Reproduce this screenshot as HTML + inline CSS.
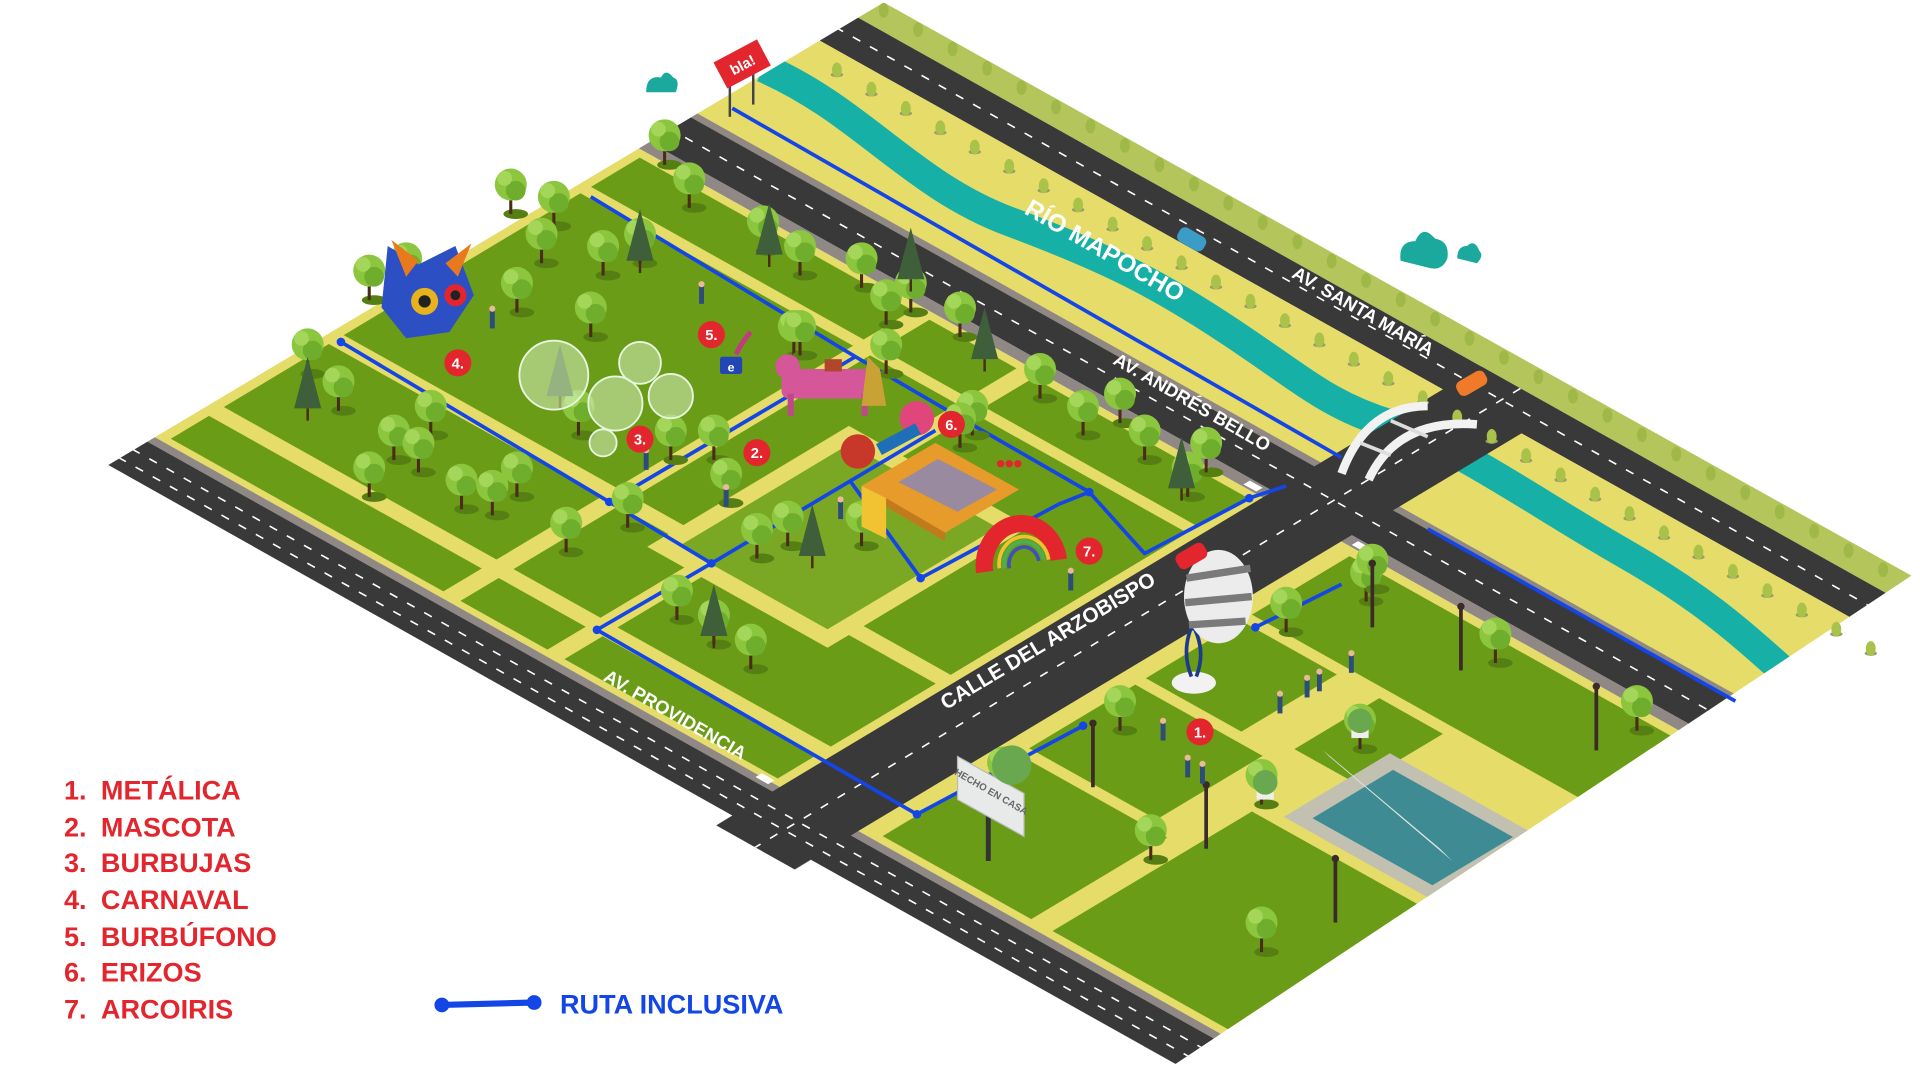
<!DOCTYPE html>
<html><head><meta charset="utf-8">
<style>
html,body{margin:0;padding:0;background:#fff;width:1920px;height:1080px;overflow:hidden}
svg{display:block;position:absolute;left:0;top:0}
text{font-family:"Liberation Sans",sans-serif;font-weight:bold}
</style></head>
<body>
<svg id="s" width="1920" height="1080" viewBox="0 0 1560 878" preserveAspectRatio="none">
<defs>
<clipPath id="cp"><polygon points="88,378 718,2 1553,468 955,865 659,699 646,707 582,671 595,663"/></clipPath>
</defs>
<g id="map" clip-path="url(#cp)"></g>
<g id="obj"></g>
<g id="lbl">
<text x="897" y="205" font-size="20" fill="#fff" text-anchor="middle" dominant-baseline="middle" transform="rotate(30 897 205)">RÍO MAPOCHO</text>
<text x="1107" y="254" font-size="15" fill="#fff" text-anchor="middle" dominant-baseline="middle" transform="rotate(30 1107 254)">AV. SANTA MARÍA</text>
<text x="968" y="328" font-size="15" fill="#fff" text-anchor="middle" dominant-baseline="middle" transform="rotate(30 968 328)">AV. ANDRÉS BELLO</text>
<text x="548" y="582" font-size="15" fill="#fff" text-anchor="middle" dominant-baseline="middle" transform="rotate(30 548 582)">AV. PROVIDENCIA</text>
<text x="852" y="522" font-size="17" fill="#fff" text-anchor="middle" dominant-baseline="middle" transform="rotate(-31 852 522)">CALLE DEL ARZOBISPO</text>
</g>
<g id="legend" fill="#e3262e" font-size="22">
<text x="52" y="650">1.</text><text x="82" y="650">METÁLICA</text>
<text x="52" y="680">2.</text><text x="82" y="680">MASCOTA</text>
<text x="52" y="709">3.</text><text x="82" y="709">BURBUJAS</text>
<text x="52" y="739">4.</text><text x="82" y="739">CARNAVAL</text>
<text x="52" y="769">5.</text><text x="82" y="769">BURBÚFONO</text>
<text x="52" y="798">6.</text><text x="82" y="798">ERIZOS</text>
<text x="52" y="828">7.</text><text x="82" y="828">ARCOIRIS</text>
<line x1="359" y1="817" x2="434" y2="815" stroke="#1446e6" stroke-width="5"/>
<circle cx="359" cy="817" r="6" fill="#1446e6"/><circle cx="434" cy="815" r="6" fill="#1446e6"/>
<text x="455" y="824" fill="#1446e6" font-size="22">RUTA INCLUSIVA</text>
</g>
<g id="marks"></g>
</svg>
<script>
function P(a,b){var x=(b-a)/1.16;return [x,a+0.56*x];}
function pts(arr){return arr.map(function(p){return p[0].toFixed(1)+','+p[1].toFixed(1)}).join(' ');}
function quad(a1,a2,b1,b2,c){return '<polygon points="'+pts([P(a1,b1),P(a1,b2),P(a2,b2),P(a2,b1)])+'" fill="'+c+'"/>';}
function lineA(a,b1,b2,st){var p=P(a,b1),q=P(a,b2);return '<line x1="'+p[0]+'" y1="'+p[1]+'" x2="'+q[0]+'" y2="'+q[1]+'" '+st+'/>';}
function lineB(b,a1,a2,st){var p=P(a1,b),q=P(a2,b);return '<line x1="'+p[0]+'" y1="'+p[1]+'" x2="'+q[0]+'" y2="'+q[1]+'" '+st+'/>';}
var Y='#e6dc6a',G='#6a9c17',R='#3a3939',GR='#8f8884',W='#16b0a6';
var m='';
m+=quad(-420,-376,300,1800,'#b4c55c');
m+=quad(-376,-340,300,1800,R);
m+=quad(-340,-219,300,1800,Y);
m+='<path d="M620,55 C700,90 740,150 820,180 S940,230 1000,270 S1080,330 1130,345 S1250,410 1320,450 S1420,520 1460,555" stroke="'+W+'" stroke-width="24" fill="none"/>';
m+=quad(-225,-219,300,1800,GR);
m+=quad(-219,-180,300,1800,R);
m+=quad(-180,-170,300,1800,GR);
m+=quad(-170,285,300,1800,Y);
m+=quad(285,292,300,1800,GR);
m+=quad(292,330,300,1800,R);
m+=quad(330,360,300,1800,GR);
m+=quad(-376,360,1020,1094,R);
var ds='stroke="#fff" stroke-width="1.3" stroke-dasharray="7 9"';
m+=lineA(-358,300,1800,ds);m+=lineA(-200,300,1800,ds);m+=lineA(305,300,1800,ds);m+=lineA(318,300,1800,ds);
m+=lineB(1057,-376,360,ds);
var ai=[[-163,-117],[-107,116],[130,229],[243,279]];
var bi=[[440,697],[713,795],[811,1012]];
ai.forEach(function(a){bi.forEach(function(b){m+=quad(a[0],a[1],b[0],b[1],G);});});
m+=quad(-40,150,760,930,Y);
m+=quad(-25,135,775,915,'#7aa824');
m+=quad(-162,-70,1110,1500,G);
m+=quad(-60,30,1110,1200,G);
m+=quad(40,140,1110,1230,G);
m+=quad(150,278,1110,1250,G);
m+=quad(-60,20,1240,1300,G);
m+=quad(90,278,1270,1500,G);
m+=quad(-20,80,1290,1430,'#c2c0b0');
m+=quad(-8,68,1305,1418,'#3e8b93');
m+='<polygon points="1075,610 1170,690 1180,700 1080,615" fill="#dfe5e2"/>';
m+=quad(-178,-172,1000,1012,'#fff');m+=quad(-178,-172,1102,1114,'#fff');
m+=quad(282,288,1000,1012,'#fff');m+=quad(333,339,1100,1112,'#fff');
document.getElementById('map').innerHTML=m;

var o='';
var bs='stroke="#1446e6" stroke-width="3" fill="none" stroke-linejoin="round"';
o+='<polyline points="595,88 1090,372" '+bs+'/>';
o+='<polyline points="1160,430 1410,570" '+bs+'/>';
o+='<polyline points="277,278 495,408 548,440 578,458" '+bs+'/>';
o+='<polyline points="480,160 695,290 760,328 885,400 930,450 1015,405 1045,395" '+bs+'/>';
o+='<polyline points="695,290 495,408" '+bs+'/>';
o+='<polyline points="578,458 485,512 745,662 880,590" '+bs+'/>';
o+='<polyline points="578,458 760,350" '+bs+'/>';
o+='<polyline points="690,390 748,470 860,410 885,400" '+bs+'/>';
o+='<polyline points="1020,510 1090,475" '+bs+'/>';
[[277,278],[495,408],[578,458],[485,512],[745,662],[885,400],[748,470],[1015,405],[880,590],[1020,510]].forEach(function(p){o+='<circle cx="'+p[0]+'" cy="'+p[1]+'" r="3.5" fill="#1446e6"/>';});
for(var x=680;x<1530;x+=28){var y=-330+0.56*x+6;o+='<ellipse cx="'+x+'" cy="'+(y+4)+'" rx="5" ry="2" fill="#9a9a70"/><ellipse cx="'+x+'" cy="'+y+'" rx="4" ry="6" fill="#a9c24a"/>';
 var y2=-392+0.56*x; o+='<ellipse cx="'+(x+10)+'" cy="'+(y2+4)+'" rx="4" ry="6" fill="#9fb848"/>';}
var T=[[300,220],[330,210],[250,280],[275,310],[320,350],[350,330],[415,150],[450,160],[440,190],[490,200],[520,190],[540,110],[560,145],[650,200],[700,210],[720,240],[740,230],[645,265],[720,280],[780,250],[845,300],[880,330],[910,320],[965,380],[980,360],[375,390],[400,395],[420,380],[460,425],[510,405],[545,350],[580,350],[590,385],[615,430],[640,420],[550,480],[580,500],[610,520],[910,570],[1045,490],[1110,465],[1215,515],[1330,570],[935,675],[1025,750],[815,620],[1025,630],[1105,585],[470,330],[650,265],[790,330],[700,420],[780,340],[1115,455],[300,380],[340,360],[420,230],[480,250],[620,180],[930,350]];
T.forEach(function(t){var x=t[0],y=t[1];o+='<ellipse cx="'+(x+4)+'" cy="'+(y+24)+'" rx="10" ry="4" fill="#557f12"/><line x1="'+x+'" y1="'+y+'" x2="'+x+'" y2="'+(y+24)+'" stroke="#4a2c1a" stroke-width="2.5"/><circle cx="'+x+'" cy="'+y+'" r="13" fill="#8cc63f"/><circle cx="'+(x+4)+'" cy="'+(y+5)+'" r="8" fill="#6fae2c"/><circle cx="'+(x-5)+'" cy="'+(y-5)+'" r="6" fill="#a4d65a"/>';});
var C=[[455,310],[625,195],[800,280],[660,440],[580,505],[960,385],[250,320],[740,215],[520,200]];
C.forEach(function(t){var x=t[0],y=t[1];o+='<polygon points="'+x+','+(y-30)+' '+(x-11)+','+(y+12)+' '+(x+11)+','+(y+12)+'" fill="#3f5f3a"/><line x1="'+x+'" y1="'+(y+12)+'" x2="'+x+'" y2="'+(y+22)+'" stroke="#4a2c1a" stroke-width="2"/>';});
[[450,305,28],[520,295,17],[500,328,22],[545,322,18],[490,360,11]].forEach(function(b){o+='<circle cx="'+b[0]+'" cy="'+b[1]+'" r="'+b[2]+'" fill="#cfe9b0" fill-opacity="0.6" stroke="#e8f6e0" stroke-width="1.5"/>';});
o+='<line x1="593" y1="70" x2="593" y2="95" stroke="#444" stroke-width="2"/><line x1="612" y1="60" x2="612" y2="85" stroke="#444" stroke-width="2"/>';
o+='<g transform="translate(603,52) rotate(-28)"><rect x="-20" y="-12" width="40" height="24" fill="#e3262e"/><text x="0" y="5" font-size="12" fill="#fff" text-anchor="middle">bla!</text></g>';
o+='<path d="M525,75 q0,-14 12,-12 q4,-8 10,0 q6,2 2,12 z" fill="#1aa99c"/>';
o+='<path d="M1138,212 q-2,-16 12,-16 q6,-14 16,-2 q12,2 10,16 q-4,10 -14,8 z" fill="#1aa99c"/>';
o+='<path d="M1184,210 q0,-10 8,-10 q6,-6 10,4 q4,4 -2,10 z" fill="#1aa99c"/>';
o+='<polygon points="315,200 340,215 370,200 385,240 365,270 330,275 310,250" fill="#2d4fc4"/><circle cx="345" cy="245" r="11" fill="#e8b21d"/><circle cx="370" cy="240" r="9" fill="#e3262e"/><circle cx="345" cy="245" r="5" fill="#222"/><circle cx="370" cy="240" r="4" fill="#222"/><polygon points="318,195 330,225 340,212" fill="#e87a1d"/><polygon points="383,198 372,225 362,214" fill="#e87a1d"/>';
o+='<rect x="635" y="300" width="80" height="24" rx="6" fill="#d6569a"/><circle cx="640" cy="298" r="10" fill="#d6569a"/><rect x="640" y="320" width="5" height="18" fill="#c04888"/><rect x="700" y="320" width="5" height="18" fill="#c04888"/><polygon points="705,290 715,300 720,330 700,330" fill="#c9a236"/><rect x="670" y="292" width="14" height="10" fill="#b0462c"/>';
o+='<rect x="585" y="290" width="18" height="14" rx="2" fill="#2247b5"/><text x="594" y="302" font-size="10" fill="#fff" text-anchor="middle">e</text><path d="M598,288 q6,-12 12,-18" stroke="#c43a80" stroke-width="4" fill="none"/>';
o+='<circle cx="745" cy="340" r="14" fill="#e0457b"/><circle cx="697" cy="367" r="14" fill="#c8382a"/>';
o+='<polygon points="700,395 760,360 828,398 768,433" fill="#e79b2b"/><polygon points="730,392 762,373 810,398 778,416" fill="#9a8a9f"/><polygon points="700,395 720,405 720,438 700,428" fill="#f1c232"/><polygon points="720,405 768,433 768,440 720,412" fill="#c27b1c"/><rect x="712" y="352" width="36" height="10" fill="#1f6fb8" transform="rotate(-28 730 357)"/>';
o+='<circle cx="813" cy="377" r="3" fill="#e3262e"/><circle cx="820" cy="377" r="3" fill="#e3262e"/><circle cx="827" cy="377" r="3" fill="#e3262e"/>';
o+='<path d="M800,465 A30,34 0 0 1 860,455" stroke="#e3262e" stroke-width="14" fill="none"/><path d="M812,462 A20,22 0 0 1 852,455" stroke="#f2c12e" stroke-width="3" fill="none"/><path d="M816,462 A16,18 0 0 1 848,455" stroke="#4caf50" stroke-width="3" fill="none"/><path d="M820,462 A12,14 0 0 1 844,456" stroke="#3f51b5" stroke-width="3" fill="none"/>';
o+='<path d="M1090,385 Q1110,330 1160,330" stroke="#f2f2f2" stroke-width="7" fill="none"/><path d="M1112,390 Q1135,340 1200,345" stroke="#f2f2f2" stroke-width="7" fill="none"/><line x1="1105" y1="360" x2="1130" y2="370" stroke="#ddd" stroke-width="3"/><line x1="1130" y1="342" x2="1160" y2="355" stroke="#ddd" stroke-width="3"/>';
o+='<ellipse cx="970" cy="555" rx="18" ry="9" fill="#f2f2f2"/><path d="M968,550 q-8,-20 0,-40 M972,550 q8,-20 -2,-40" stroke="#1e3a8a" stroke-width="3" fill="none"/>';
o+='<ellipse cx="990" cy="485" rx="28" ry="38" fill="#ececec"/><path d="M964,470 L1016,462 M963,490 L1017,485 M966,508 L1012,505" stroke="#7a7a7a" stroke-width="6"/>';
o+='<rect x="955" y="445" width="26" height="14" rx="5" fill="#e3262e" transform="rotate(-30 968 452)"/>';
o+='<rect x="956" y="188" width="24" height="13" rx="5" fill="#3a9cc7" transform="rotate(30 968 195)"/>';
o+='<rect x="1183" y="305" width="26" height="13" rx="5" fill="#ef7b2a" transform="rotate(-30 1196 312)"/>';
o+='<line x1="803" y1="660" x2="803" y2="700" stroke="#333" stroke-width="4"/><polygon points="778,615 832,645 832,680 778,650" fill="#e8eaea" stroke="#bbb"/><text x="804" y="646" font-size="8" fill="#666" text-anchor="middle" transform="rotate(30 804 646)">HECHO EN CASA</text>';
o+='<circle cx="822" cy="622" r="16" fill="#6aa84f"/>';
[[888,640],[980,690],[1085,750],[1115,510],[1187,545],[1297,610]].forEach(function(l){o+='<line x1="'+l[0]+'" y1="'+l[1]+'" x2="'+l[0]+'" y2="'+(l[1]-50)+'" stroke="#3a2a2a" stroke-width="3"/><circle cx="'+l[0]+'" cy="'+(l[1]-52)+'" r="3" fill="#3a2a2a"/>';});
[[1062,565],[1072,560],[1098,545],[965,630],[977,635],[1040,578],[945,600],[870,478],[683,420],[525,380],[570,245],[400,265],[590,410]].forEach(function(p){o+='<rect x="'+(p[0]-2)+'" y="'+(p[1]-12)+'" width="4" height="14" fill="#2e4c7a"/><circle cx="'+p[0]+'" cy="'+(p[1]-14)+'" r="2.5" fill="#e9b99a"/>';});
[[1028,640],[1105,590]].forEach(function(p){o+='<rect x="'+(p[0]-7)+'" y="'+p[1]+'" width="14" height="10" fill="#eee"/><circle cx="'+p[0]+'" cy="'+(p[1]-4)+'" r="10" fill="#6aa84f"/>';});
document.getElementById('obj').innerHTML=o;

var mk='';
[[975,595,'1.'],[615,368,'2.'],[520,357,'3.'],[372,295,'4.'],[578,272,'5.'],[773,345,'6.'],[885,448,'7.']].forEach(function(k){mk+='<circle cx="'+k[0]+'" cy="'+k[1]+'" r="11" fill="#e3262e"/><text x="'+k[0]+'" y="'+(k[1]+4.5)+'" font-size="12" fill="#fff" text-anchor="middle">'+k[2]+'</text>';});
document.getElementById('marks').innerHTML=mk;
</script>
</body></html>
